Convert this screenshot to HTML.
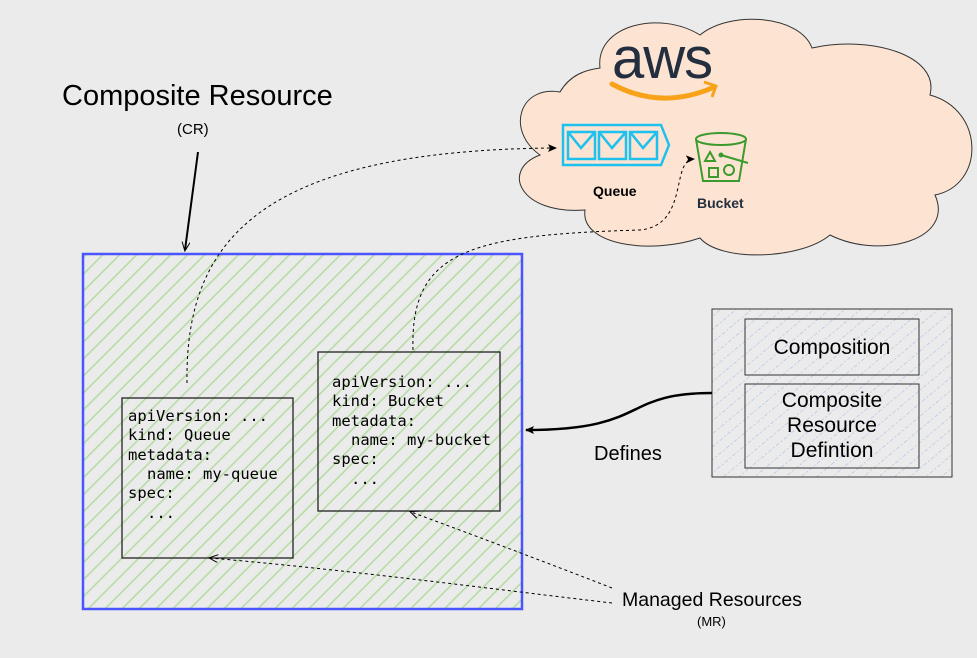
<!DOCTYPE html>
<html><head><style>
html,body{margin:0;padding:0;background:#ebebeb;}
svg{display:block;}
text{font-family:"Liberation Sans",sans-serif;}
.m{font-family:"DejaVu Sans Mono","Liberation Mono",monospace;font-size:15.5px;fill:#000;}
</style></head><body>
<svg width="977" height="658" viewBox="0 0 977 658" xmlns="http://www.w3.org/2000/svg">
<defs>
<pattern id="g" patternUnits="userSpaceOnUse" width="12" height="12" patternTransform="rotate(45)">
<rect width="12" height="12" fill="#ebebeb"/><rect x="0" y="0" width="1.6" height="12" fill="#b7dca3"/>
</pattern>
<pattern id="b" patternUnits="userSpaceOnUse" width="10" height="10" patternTransform="rotate(50)">
<rect width="10" height="10" fill="#ebebeb"/><line x1="0" y1="0" x2="0" y2="10" stroke="#9cb7e0" stroke-width="1" stroke-dasharray="2,2"/>
</pattern>
<marker id="ah" markerWidth="10" markerHeight="10" refX="8" refY="4" orient="auto" markerUnits="userSpaceOnUse">
<path d="M0,0 L9,4 L0,8 L2,4 Z" fill="#000"/></marker>
<marker id="ao" markerWidth="10" markerHeight="10" refX="8" refY="4" orient="auto" markerUnits="userSpaceOnUse">
<path d="M0,0 L9,4 L0,8" fill="none" stroke="#000" stroke-width="1"/></marker>
</defs>
<rect width="977" height="658" fill="#ebebeb"/>

<!-- cloud -->
<path d="M600,68 C595,25 660,10 700,35 C730,10 800,15 812,48 C870,35 940,55 930,95 C985,110 985,185 935,195 C955,240 880,260 830,235 C800,260 720,262 700,238 C650,255 580,245 585,210 C520,215 500,170 540,155 C505,130 520,85 560,92 C570,75 585,70 600,68 Z" fill="#fde4d2" stroke="#333" stroke-width="1"/>
<text x="612" y="78" font-size="58" fill="#232f3e" letter-spacing="-1">aws</text>
<path d="M612,84 Q660,110 712,88" fill="none" stroke="#f8a21a" stroke-width="5" stroke-linecap="round"/>
<path d="M704,82 L716,86 L712,97" fill="none" stroke="#f8a21a" stroke-width="3"/>
<!-- queue icon -->
<path d="M563,125 L661,125 L669,145 L661,165 L563,165 Z" fill="none" stroke="#1ec0ee" stroke-width="2.5"/>
<g fill="none" stroke="#1ec0ee" stroke-width="2.5">
<rect x="568" y="132" width="27" height="27"/><path d="M568,132 L581,148 L595,132"/>
<rect x="599" y="132" width="27" height="27"/><path d="M599,132 L612,148 L626,132"/>
<rect x="630" y="132" width="27" height="27"/><path d="M630,132 L643,148 L657,132"/>
</g>
<text x="593" y="196" font-size="14" font-weight="bold" fill="#000">Queue</text>
<!-- bucket icon -->
<g fill="none" stroke="#3c9b2d" stroke-width="2">
<ellipse cx="721" cy="139" rx="25" ry="6"/>
<path d="M696,139 L703,181 L739,181 L746,139"/>
<path d="M710,152 L715,161 L705,161 Z"/><rect x="709" y="168" width="9" height="9"/><circle cx="729" cy="170" r="5"/>
<path d="M721,155 L748,163"/><circle cx="721" cy="155" r="1.5" fill="#3c9b2d"/>
</g>
<text x="697" y="208" font-size="14" font-weight="bold" fill="#232f3e">Bucket</text>

<!-- title -->
<text x="62" y="105" font-size="29" fill="#000">Composite Resource</text>
<text x="177" y="134" font-size="15" fill="#000">(CR)</text>
<line x1="198" y1="152" x2="185" y2="250" stroke="#000" stroke-width="2" marker-end="url(#ao)"/>

<!-- CR box -->
<rect x="83" y="254" width="439" height="355" fill="url(#g)" stroke="#4a55ff" stroke-width="2.5"/>
<rect x="122" y="398" width="171" height="160" fill="none" stroke="#222" stroke-width="1.3"/>
<rect x="318" y="352" width="182" height="159" fill="none" stroke="#222" stroke-width="1.3"/>
<text x="128" y="421" class="m">apiVersion: ...</text>
<text x="128" y="440" class="m">kind: Queue</text>
<text x="128" y="460" class="m">metadata:</text>
<text x="147" y="479" class="m">name: my-queue</text>
<text x="128" y="498" class="m">spec:</text>
<text x="147" y="518" class="m">...</text>
<text x="332" y="387" class="m">apiVersion: ...</text>
<text x="332" y="406" class="m">kind: Bucket</text>
<text x="332" y="426" class="m">metadata:</text>
<text x="351" y="445" class="m">name: my-bucket</text>
<text x="332" y="464" class="m">spec:</text>
<text x="351" y="484" class="m">...</text>

<!-- dashed connectors -->
<path d="M187,383 C185,240 260,150 556,148" fill="none" stroke="#000" stroke-width="1" stroke-dasharray="3,3" marker-end="url(#ah)"/>
<path d="M413,350 C410,250 470,235 640,230 C690,225 670,160 694,159" fill="none" stroke="#000" stroke-width="1" stroke-dasharray="3,3" marker-end="url(#ah)"/>
<path d="M612,603 C500,590 350,570 210,558" fill="none" stroke="#000" stroke-width="1" stroke-dasharray="3,3" marker-end="url(#ao)"/>
<path d="M612,588 C540,560 460,530 411,512" fill="none" stroke="#000" stroke-width="1" stroke-dasharray="3,3" marker-end="url(#ao)"/>

<!-- right box -->
<rect x="712" y="309" width="240" height="168" fill="url(#b)" stroke="#333" stroke-width="1"/>
<rect x="745" y="319" width="174" height="56" fill="none" stroke="#333" stroke-width="1"/>
<rect x="745" y="384" width="174" height="84" fill="none" stroke="#333" stroke-width="1"/>
<text x="832" y="354" font-size="21" text-anchor="middle">Composition</text>
<text x="832" y="407" font-size="21" text-anchor="middle">Composite</text>
<text x="832" y="432" font-size="21" text-anchor="middle">Resource</text>
<text x="832" y="457" font-size="21" text-anchor="middle">Defintion</text>
<path d="M712,393 C620,393 650,430 526,430" fill="none" stroke="#000" stroke-width="2.5" marker-end="url(#ah)"/>
<text x="594" y="460" font-size="20">Defines</text>
<text x="622" y="606" font-size="19.5">Managed Resources</text>
<text x="697" y="626" font-size="13">(MR)</text>
</svg>
</body></html>
